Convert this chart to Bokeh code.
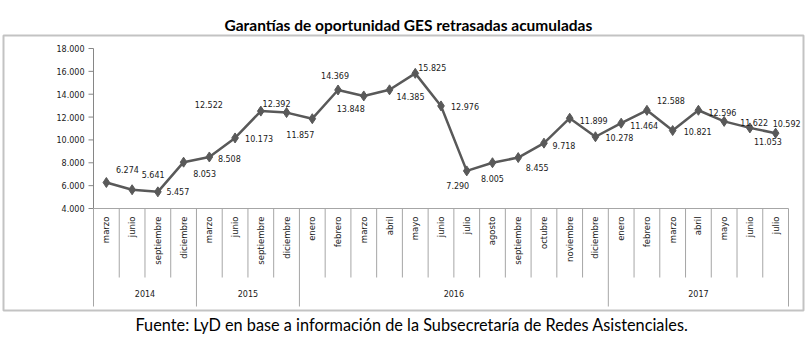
import math
from bokeh.plotting import figure
from bokeh.models import Range1d, Title, ColumnDataSource
from bokeh.core.properties import value
from bokeh.embed import file_html
from bokeh.resources import INLINE

# ---------------- data ----------------
years = ["2014", "2015", "2016", "2017"]
months_per_year = [4, 4, 12, 7]
months = ["marzo", "junio", "septiembre", "diciembre",
          "marzo", "junio", "septiembre", "diciembre",
          "enero", "febrero", "marzo", "abril", "mayo", "junio", "julio",
          "agosto", "septiembre", "octubre", "noviembre", "diciembre",
          "enero", "febrero", "marzo", "abril", "mayo", "junio", "julio"]
garantias = [6274, 5641, 5457, 8053,
             8508, 10173, 12522, 12392,
             11857, 14369, 13848, 14385, 15825, 12976, 7290,
             8005, 8455, 9718, 11899, 10278,
             11464, 12588, 10821, 12596, 11622, 11053, 10592]
y_ticks = [4000, 6000, 8000, 10000, 12000, 14000, 16000, 18000]
y_tick_labels = ["4.000", "6.000", "8.000", "10.000", "12.000", "14.000", "16.000", "18.000"]
title_text = "Garantías de oportunidad GES retrasadas acumuladas"
source_text = "Fuente: LyD en base a información de la Subsecretaría de Redes Asistenciales."

# label placement offsets (screen px) relative to each point
label_dx = [21, 21, 20, 21, 20, 24, -52, -10, -12, -3, -13, 21, 17, 24, -9, 0, 19,
            20, 24, 24, 23, 24, 25, 24, 30, 18, 11]
label_dy = [-13, -15, 0, 11, 2, 1, -7, -9, 16, -14, 13, 7, -6, 1, 15, 16, 10,
            2, 2, 1, 2, -10, 1, 2, 1, 14, -10]

# ---------------- layout ----------------
W, H = 807, 353
BOX_L, BOX_R, BOX_T, BOX_B = 3, 803, 35, 310      # frame = outer box
AX_L, AX_R = 93, 788                               # category axis extent (px)
PY_TOP_TICK, PY_BOT_TICK = 48, 208
n = len(months)
ppx = (AX_R - AX_L) / n                            # px per category
ppu = (PY_BOT_TICK - PY_TOP_TICK) / (y_ticks[-1] - y_ticks[0])


def py_to_y(py):
    return y_ticks[0] - (py - PY_BOT_TICK) / ppu


x_start = -0.5 - (AX_L - BOX_L) / ppx
x_end = n - 0.5 + (BOX_R - AX_R) / ppx
y_start = py_to_y(BOX_B)
y_end = py_to_y(BOX_T)
xs = list(range(n))
x_axis = -0.5

LINE_C = "#595959"
GRID_C = "#a6a6a6"
AXIS_C = "#868686"
TXT_C = "#1a1a1a"

p = figure(width=W, height=H, output_backend="svg", toolbar_location=None,
           x_range=Range1d(x_start, x_end), y_range=Range1d(y_start, y_end),
           x_axis_location=None, y_axis_location=None,
           min_border_left=BOX_L, min_border_right=W - BOX_R,
           min_border_top=BOX_T, min_border_bottom=H - BOX_B)
p.outline_line_color = "#c3c3c3"
p.outline_line_width = 2
p.xgrid.visible = False
p.ygrid.visible = False
p.background_fill_color = "white"
p.border_fill_color = "white"

# title
p.title.text = title_text
p.title.align = "left"
p.title.offset = 221
p.title.text_font = "Lato"
p.title.text_font_style = "bold"
p.title.text_font_size = "15.5px"
p.title.text_color = "black"
p.title.standoff = 3

foot = Title(text=source_text, align="left", offset=132, text_font="Lato",
             text_font_style="normal", text_font_size="16.3px", text_color="black",
             standoff=4)
p.add_layout(foot, "below")

# value axis (drawn inside the boxed frame)
p.segment(x0=[x_axis], x1=[x_axis], y0=[y_ticks[0]], y1=[y_ticks[-1]],
          line_color=AXIS_C, line_width=1)
tick_len = 5 / ppx
p.segment(x0=[x_axis] * len(y_ticks), x1=[x_axis - tick_len] * len(y_ticks),
          y0=y_ticks, y1=y_ticks, line_color=AXIS_C, line_width=1)
p.text(x=[x_axis] * len(y_ticks), y=y_ticks, text=y_tick_labels, x_offset=-9,
       text_align="right", text_baseline="middle",
       text_font=value("DejaVu Sans"), text_font_size="8px", text_color=TXT_C)

# category table
p.segment(x0=[-0.5], x1=[n - 0.5], y0=[y_ticks[0]], y1=[y_ticks[0]],
          line_color=GRID_C, line_width=1)
year_bounds = [0]
for k in months_per_year:
    year_bounds.append(year_bounds[-1] + k)
month_sep = [b - 0.5 for b in range(1, n) if b not in year_bounds]
year_sep = [b - 0.5 for b in year_bounds]
p.segment(x0=month_sep, x1=month_sep, y0=[y_ticks[0]] * len(month_sep),
          y1=[py_to_y(277)] * len(month_sep), line_color=GRID_C, line_width=1)
p.segment(x0=year_sep, x1=year_sep, y0=[y_ticks[0]] * len(year_sep),
          y1=[py_to_y(306)] * len(year_sep), line_color=GRID_C, line_width=1)

p.text(x=xs, y=[py_to_y(216)] * n, text=months, angle=math.pi / 2,
       text_align="right", text_baseline="middle",
       text_font=value("DejaVu Sans"), text_font_size="8.5px", text_color=TXT_C)

year_mid = [(year_bounds[i] + year_bounds[i + 1] - 1) / 2 for i in range(len(years))]
p.text(x=year_mid, y=[py_to_y(293)] * len(years), text=years,
       text_align="center", text_baseline="middle",
       text_font=value("DejaVu Sans"), text_font_size="8px", text_color=TXT_C)

# series
src = ColumnDataSource(dict(x=xs, y=garantias,
                            lbl=[f"{v:,}".replace(",", ".") for v in garantias],
                            dx=label_dx, dy=label_dy))
p.line("x", "y", source=src, line_color=LINE_C, line_width=2.5)
p.scatter("x", "y", source=src, marker="diamond", size=10, fill_color=LINE_C,
          line_color=LINE_C)
p.text("x", "y", text="lbl", x_offset="dx", y_offset="dy", source=src,
       text_align="center", text_baseline="middle",
       text_font=value("DejaVu Sans"), text_font_size="8px", text_color=TXT_C)

open("out.html", "w").write(file_html(p, INLINE))
